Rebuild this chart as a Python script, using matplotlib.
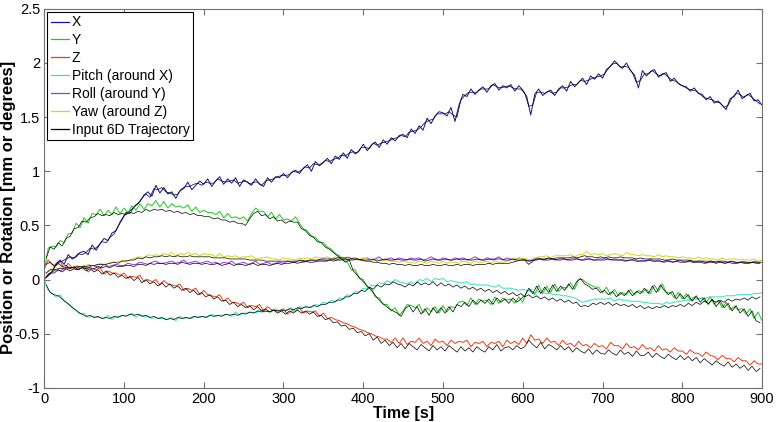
import matplotlib

matplotlib.use("Agg")
import matplotlib.pyplot as plt
import numpy as np

plt.rcParams["font.family"] = ["Liberation Sans", "DejaVu Sans"]

# measured pose, sampled every 5 s (0..900)
t_meas = np.arange(0, 901, 5)
# input trajectory, sampled every 5 s between the measured samples
t_input = np.arange(2.5, 900, 5)

x_pos = [
    0.00, 0.05, 0.07, 0.15, 0.18, 0.14, 0.23, 0.19, 0.21, 0.25,
    0.26, 0.23, 0.32, 0.27, 0.33, 0.38, 0.36, 0.43, 0.45, 0.53,
    0.59, 0.62, 0.65, 0.69, 0.72, 0.78, 0.81, 0.77, 0.87, 0.80,
    0.85, 0.79, 0.81, 0.75, 0.82, 0.84, 0.90, 0.83, 0.87, 0.91,
    0.88, 0.93, 0.86, 0.91, 0.95, 0.88, 0.93, 0.89, 0.94, 0.86,
    0.92, 0.90, 0.87, 0.93, 0.88, 0.86, 0.94, 0.90, 0.95, 0.94,
    0.98, 0.94, 0.99, 1.01, 0.98, 1.03, 1.06, 1.00, 1.09, 1.05,
    1.08, 1.12, 1.07, 1.14, 1.11, 1.17, 1.12, 1.20, 1.16, 1.19,
    1.25, 1.19, 1.24, 1.27, 1.22, 1.29, 1.25, 1.31, 1.28, 1.33,
    1.34, 1.31, 1.39, 1.35, 1.42, 1.38, 1.49, 1.44, 1.51, 1.55,
    1.54, 1.51, 1.59, 1.46, 1.61, 1.71, 1.69, 1.76, 1.71, 1.75,
    1.78, 1.73, 1.79, 1.81, 1.75, 1.79, 1.77, 1.80, 1.74, 1.79,
    1.75, 1.69, 1.52, 1.71, 1.76, 1.70, 1.73, 1.75, 1.70, 1.76,
    1.79, 1.74, 1.83, 1.78, 1.82, 1.86, 1.80, 1.88, 1.85, 1.90,
    1.86, 1.94, 1.97, 2.02, 1.98, 1.95, 2.00, 1.93, 1.89, 1.77,
    1.93, 1.88, 1.92, 1.94, 1.87, 1.90, 1.91, 1.83, 1.86, 1.81,
    1.79, 1.78, 1.74, 1.77, 1.72, 1.71, 1.66, 1.69, 1.63, 1.65,
    1.61, 1.57, 1.67, 1.69, 1.75, 1.67, 1.70, 1.72, 1.65, 1.66,
    1.61,
]
y_pos = [
    0.08, 0.29, 0.31, 0.30, 0.36, 0.34, 0.42, 0.43, 0.52, 0.48,
    0.57, 0.52, 0.61, 0.60, 0.65, 0.59, 0.64, 0.60, 0.67, 0.61,
    0.66, 0.62, 0.68, 0.64, 0.70, 0.65, 0.70, 0.68, 0.73, 0.67,
    0.72, 0.66, 0.70, 0.67, 0.68, 0.66, 0.69, 0.63, 0.67, 0.62,
    0.64, 0.62, 0.62, 0.60, 0.63, 0.57, 0.61, 0.57, 0.58, 0.56,
    0.58, 0.54, 0.61, 0.66, 0.63, 0.63, 0.58, 0.62, 0.56, 0.60,
    0.55, 0.56, 0.54, 0.58, 0.52, 0.47, 0.45, 0.40, 0.39, 0.35,
    0.34, 0.30, 0.28, 0.24, 0.22, 0.18, 0.16, 0.09, 0.09, 0.01,
    0.00, -0.07, -0.08, -0.16, -0.17, -0.23, -0.23, -0.29, -0.26, -0.33,
    -0.29, -0.23, -0.24, -0.26, -0.23, -0.31, -0.26, -0.30, -0.25, -0.31,
    -0.24, -0.30, -0.25, -0.26, -0.21, -0.20, -0.24, -0.17, -0.23, -0.18,
    -0.20, -0.19, -0.23, -0.16, -0.22, -0.17, -0.19, -0.18, -0.22, -0.16,
    -0.21, -0.11, -0.09, -0.14, -0.05, -0.13, -0.06, -0.12, -0.04, -0.11,
    -0.07, -0.08, -0.03, -0.09, 0.00, 0.00, -0.03, -0.05, -0.07, -0.07,
    -0.12, -0.07, -0.14, -0.09, -0.15, -0.12, -0.14, -0.09, -0.14, -0.10,
    -0.12, -0.09, -0.13, -0.05, -0.11, -0.04, -0.12, -0.12, -0.17, -0.12,
    -0.18, -0.13, -0.19, -0.16, -0.18, -0.17, -0.21, -0.16, -0.23, -0.19,
    -0.26, -0.21, -0.28, -0.25, -0.28, -0.27, -0.32, -0.27, -0.36, -0.30,
    -0.38,
]
z_pos = [
    0.10, 0.18, 0.14, 0.13, 0.17, 0.10, 0.15, 0.11, 0.12, 0.10,
    0.13, 0.07, 0.10, 0.09, 0.11, 0.05, 0.08, 0.06, 0.06, 0.04,
    0.06, 0.01, 0.03, 0.02, 0.04, -0.02, 0.00, -0.02, 0.00, -0.05,
    -0.01, -0.04, -0.05, -0.06, -0.04, -0.10, -0.08, -0.10, -0.08, -0.14,
    -0.10, -0.14, -0.15, -0.16, -0.14, -0.20, -0.17, -0.21, -0.21, -0.23,
    -0.21, -0.26, -0.24, -0.25, -0.23, -0.29, -0.25, -0.28, -0.29, -0.29,
    -0.27, -0.32, -0.29, -0.29, -0.26, -0.31, -0.29, -0.30, -0.29, -0.34,
    -0.31, -0.36, -0.35, -0.37, -0.38, -0.40, -0.41, -0.43, -0.44, -0.46,
    -0.47, -0.49, -0.50, -0.52, -0.53, -0.55, -0.55, -0.58, -0.54, -0.59,
    -0.54, -0.60, -0.57, -0.58, -0.54, -0.59, -0.57, -0.61, -0.55, -0.58,
    -0.57, -0.61, -0.56, -0.59, -0.57, -0.58, -0.56, -0.62, -0.58, -0.59,
    -0.57, -0.62, -0.58, -0.59, -0.57, -0.62, -0.56, -0.59, -0.57, -0.60,
    -0.54, -0.59, -0.51, -0.56, -0.55, -0.59, -0.54, -0.58, -0.57, -0.61,
    -0.56, -0.60, -0.59, -0.62, -0.57, -0.61, -0.60, -0.63, -0.59, -0.62,
    -0.61, -0.64, -0.58, -0.61, -0.61, -0.64, -0.59, -0.63, -0.62, -0.65,
    -0.60, -0.64, -0.63, -0.66, -0.61, -0.65, -0.64, -0.67, -0.63, -0.66,
    -0.66, -0.69, -0.65, -0.68, -0.68, -0.71, -0.67, -0.70, -0.71, -0.74,
    -0.70, -0.73, -0.73, -0.76, -0.72, -0.75, -0.75, -0.79, -0.75, -0.78,
    -0.78,
]
pitch = [
    0.00, -0.10, -0.13, -0.16, -0.14, -0.20, -0.22, -0.26, -0.28, -0.32,
    -0.31, -0.35, -0.34, -0.35, -0.35, -0.36, -0.33, -0.37, -0.34, -0.34,
    -0.33, -0.33, -0.31, -0.35, -0.32, -0.34, -0.34, -0.36, -0.35, -0.36,
    -0.36, -0.37, -0.35, -0.38, -0.34, -0.36, -0.35, -0.36, -0.34, -0.35,
    -0.34, -0.35, -0.32, -0.34, -0.33, -0.33, -0.32, -0.34, -0.30, -0.33,
    -0.31, -0.31, -0.30, -0.31, -0.28, -0.30, -0.29, -0.30, -0.27, -0.30,
    -0.28, -0.28, -0.26, -0.29, -0.25, -0.26, -0.25, -0.26, -0.23, -0.24,
    -0.21, -0.22, -0.19, -0.21, -0.17, -0.18, -0.14, -0.15, -0.11, -0.12,
    -0.08, -0.09, -0.05, -0.06, -0.03, -0.04, -0.01, -0.03, 0.00, -0.02,
    -0.03, -0.04, -0.02, -0.05, 0.00, -0.01, 0.01, -0.02, 0.01, 0.00,
    0.01, -0.02, -0.01, -0.02, -0.03, -0.03, -0.02, -0.05, -0.04, -0.05,
    -0.05, -0.05, -0.06, -0.07, -0.05, -0.08, -0.08, -0.08, -0.09, -0.10,
    -0.09, -0.10, -0.11, -0.12, -0.11, -0.12, -0.13, -0.13, -0.14, -0.14,
    -0.15, -0.15, -0.16, -0.17, -0.19, -0.21, -0.20, -0.19, -0.18, -0.18,
    -0.18, -0.18, -0.17, -0.20, -0.18, -0.19, -0.19, -0.20, -0.20, -0.20,
    -0.21, -0.21, -0.22, -0.22, -0.22, -0.23, -0.21, -0.22, -0.21, -0.20,
    -0.20, -0.19, -0.19, -0.18, -0.18, -0.17, -0.17, -0.16, -0.16, -0.16,
    -0.16, -0.15, -0.15, -0.15, -0.14, -0.14, -0.14, -0.14, -0.13, -0.13,
    -0.12,
]
roll = [
    0.00, 0.04, 0.07, 0.09, 0.08, 0.10, 0.10, 0.11, 0.09, 0.12,
    0.11, 0.11, 0.13, 0.12, 0.11, 0.14, 0.12, 0.13, 0.14, 0.13,
    0.13, 0.15, 0.14, 0.14, 0.16, 0.15, 0.14, 0.16, 0.17, 0.15,
    0.15, 0.16, 0.17, 0.15, 0.16, 0.18, 0.15, 0.16, 0.17, 0.15,
    0.16, 0.17, 0.15, 0.16, 0.14, 0.16, 0.15, 0.17, 0.14, 0.15,
    0.16, 0.14, 0.15, 0.17, 0.14, 0.15, 0.16, 0.14, 0.15, 0.16,
    0.15, 0.17, 0.16, 0.16, 0.18, 0.16, 0.17, 0.18, 0.17, 0.18,
    0.18, 0.17, 0.19, 0.18, 0.19, 0.20, 0.18, 0.19, 0.20, 0.18,
    0.19, 0.20, 0.18, 0.19, 0.21, 0.18, 0.19, 0.20, 0.18, 0.20,
    0.19, 0.18, 0.20, 0.19, 0.20, 0.18, 0.19, 0.21, 0.19, 0.18,
    0.20, 0.19, 0.18, 0.20, 0.19, 0.20, 0.18, 0.19, 0.21, 0.19,
    0.18, 0.20, 0.19, 0.19, 0.21, 0.18, 0.20, 0.19, 0.18, 0.20,
    0.19, 0.18, 0.17, 0.19, 0.20, 0.18, 0.19, 0.20, 0.18, 0.19,
    0.20, 0.18, 0.19, 0.20, 0.19, 0.18, 0.20, 0.19, 0.18, 0.19,
    0.19, 0.20, 0.18, 0.19, 0.18, 0.19, 0.17, 0.18, 0.19, 0.17,
    0.18, 0.17, 0.19, 0.17, 0.18, 0.16, 0.18, 0.17, 0.16, 0.18,
    0.17, 0.16, 0.18, 0.16, 0.17, 0.17, 0.15, 0.17, 0.16, 0.17,
    0.16, 0.15, 0.17, 0.16, 0.15, 0.17, 0.16, 0.15, 0.17, 0.16,
    0.16,
]
yaw = [
    0.05, 0.08, 0.10, 0.09, 0.11, 0.11, 0.12, 0.10, 0.13, 0.12,
    0.12, 0.14, 0.13, 0.13, 0.15, 0.14, 0.15, 0.16, 0.16, 0.17,
    0.18, 0.17, 0.19, 0.20, 0.21, 0.20, 0.23, 0.22, 0.23, 0.22,
    0.24, 0.23, 0.25, 0.22, 0.24, 0.23, 0.25, 0.23, 0.24, 0.22,
    0.24, 0.23, 0.23, 0.21, 0.24, 0.21, 0.22, 0.21, 0.22, 0.20,
    0.21, 0.21, 0.22, 0.19, 0.20, 0.20, 0.21, 0.19, 0.19, 0.18,
    0.20, 0.19, 0.19, 0.18, 0.20, 0.19, 0.20, 0.19, 0.21, 0.20,
    0.20, 0.21, 0.19, 0.21, 0.20, 0.19, 0.21, 0.20, 0.20, 0.19,
    0.20, 0.19, 0.18, 0.18, 0.19, 0.17, 0.18, 0.17, 0.17, 0.16,
    0.17, 0.16, 0.16, 0.15, 0.17, 0.16, 0.15, 0.17, 0.16, 0.15,
    0.17, 0.15, 0.16, 0.16, 0.15, 0.17, 0.16, 0.15, 0.17, 0.16,
    0.16, 0.17, 0.15, 0.17, 0.16, 0.16, 0.17, 0.18, 0.20, 0.19,
    0.20, 0.19, 0.18, 0.20, 0.21, 0.21, 0.22, 0.20, 0.22, 0.22,
    0.22, 0.22, 0.23, 0.21, 0.23, 0.23, 0.26, 0.23, 0.24, 0.23,
    0.24, 0.22, 0.23, 0.24, 0.23, 0.22, 0.25, 0.23, 0.23, 0.22,
    0.23, 0.22, 0.22, 0.21, 0.23, 0.21, 0.22, 0.21, 0.21, 0.20,
    0.21, 0.20, 0.20, 0.19, 0.21, 0.19, 0.20, 0.19, 0.19, 0.18,
    0.20, 0.18, 0.19, 0.19, 0.18, 0.19, 0.18, 0.18, 0.19, 0.17,
    0.18,
]

input_x = [
    0.02, 0.05, 0.11, 0.16, 0.17, 0.19, 0.21, 0.20, 0.24, 0.23,
    0.25, 0.29, 0.28, 0.31, 0.35, 0.34, 0.39, 0.42, 0.49, 0.55,
    0.62, 0.61, 0.67, 0.70, 0.75, 0.79, 0.76, 0.84, 0.83, 0.85,
    0.81, 0.80, 0.78, 0.79, 0.84, 0.86, 0.86, 0.88, 0.89, 0.87,
    0.90, 0.89, 0.89, 0.93, 0.91, 0.90, 0.91, 0.92, 0.89, 0.90,
    0.91, 0.88, 0.90, 0.90, 0.87, 0.91, 0.92, 0.93, 0.95, 0.96,
    0.96, 0.97, 1.00, 0.99, 1.01, 1.04, 1.03, 1.07, 1.06, 1.07,
    1.10, 1.09, 1.11, 1.12, 1.15, 1.14, 1.17, 1.18, 1.17, 1.22,
    1.22, 1.21, 1.26, 1.24, 1.26, 1.27, 1.28, 1.30, 1.31, 1.33,
    1.32, 1.36, 1.37, 1.38, 1.41, 1.45, 1.47, 1.48, 1.53, 1.53,
    1.53, 1.55, 1.52, 1.50, 1.66, 1.70, 1.73, 1.73, 1.73, 1.76,
    1.76, 1.76, 1.80, 1.78, 1.77, 1.78, 1.79, 1.77, 1.76, 1.76,
    1.72, 1.60, 1.61, 1.73, 1.73, 1.72, 1.74, 1.72, 1.73, 1.77,
    1.77, 1.78, 1.80, 1.80, 1.84, 1.83, 1.84, 1.86, 1.87, 1.88,
    1.90, 1.95, 1.99, 2.00, 1.96, 1.97, 1.96, 1.91, 1.82, 1.84,
    1.90, 1.90, 1.93, 1.90, 1.88, 1.90, 1.87, 1.84, 1.83, 1.80,
    1.78, 1.76, 1.75, 1.74, 1.71, 1.68, 1.67, 1.66, 1.64, 1.63,
    1.59, 1.61, 1.68, 1.72, 1.71, 1.68, 1.71, 1.68, 1.65, 1.62,
]
input_y = [
    0.20, 0.30, 0.28, 0.34, 0.31, 0.38, 0.40, 0.47, 0.48, 0.54,
    0.53, 0.57, 0.58, 0.61, 0.59, 0.60, 0.59, 0.62, 0.60, 0.61,
    0.60, 0.62, 0.61, 0.63, 0.62, 0.65, 0.63, 0.65, 0.64, 0.65,
    0.63, 0.64, 0.62, 0.63, 0.61, 0.62, 0.60, 0.61, 0.59, 0.59,
    0.58, 0.58, 0.56, 0.57, 0.55, 0.55, 0.53, 0.54, 0.52, 0.52,
    0.50, 0.56, 0.61, 0.63, 0.59, 0.60, 0.56, 0.58, 0.54, 0.55,
    0.52, 0.54, 0.53, 0.53, 0.47, 0.45, 0.41, 0.39, 0.35, 0.34,
    0.30, 0.28, 0.25, 0.22, 0.19, 0.16, 0.18, 0.08, 0.04, 0.00,
    -0.04, -0.08, -0.12, -0.17, -0.21, -0.24, -0.27, -0.29, -0.31, -0.34,
    -0.27, -0.24, -0.30, -0.25, -0.32, -0.27, -0.33, -0.26, -0.31, -0.26,
    -0.31, -0.25, -0.30, -0.23, -0.25, -0.21, -0.25, -0.19, -0.23, -0.19,
    -0.22, -0.18, -0.23, -0.17, -0.21, -0.18, -0.22, -0.17, -0.21, -0.18,
    -0.15, -0.08, -0.13, -0.06, -0.13, -0.07, -0.12, -0.05, -0.11, -0.06,
    -0.10, -0.04, -0.09, -0.02, 0.01, -0.04, -0.06, -0.09, -0.08, -0.12,
    -0.10, -0.14, -0.11, -0.16, -0.12, -0.15, -0.10, -0.15, -0.11, -0.13,
    -0.08, -0.13, -0.06, -0.12, -0.05, -0.10, -0.14, -0.11, -0.18, -0.13,
    -0.18, -0.14, -0.20, -0.15, -0.21, -0.17, -0.23, -0.18, -0.25, -0.20,
    -0.26, -0.22, -0.29, -0.24, -0.31, -0.27, -0.34, -0.29, -0.38, -0.40,
]
input_z = [
    0.14, 0.16, 0.12, 0.15, 0.12, 0.13, 0.10, 0.12, 0.09, 0.11,
    0.08, 0.10, 0.07, 0.09, 0.05, 0.08, 0.04, 0.06, 0.02, 0.04,
    0.01, 0.03, -0.01, 0.02, -0.03, 0.00, -0.04, -0.02, -0.06, -0.03,
    -0.07, -0.04, -0.08, -0.06, -0.10, -0.08, -0.12, -0.10, -0.14, -0.12,
    -0.16, -0.14, -0.18, -0.16, -0.20, -0.19, -0.23, -0.21, -0.25, -0.23,
    -0.26, -0.24, -0.28, -0.25, -0.29, -0.27, -0.30, -0.28, -0.31, -0.29,
    -0.32, -0.29, -0.31, -0.28, -0.31, -0.29, -0.32, -0.30, -0.34, -0.33,
    -0.37, -0.36, -0.40, -0.39, -0.43, -0.42, -0.46, -0.45, -0.49, -0.48,
    -0.52, -0.50, -0.56, -0.53, -0.59, -0.56, -0.61, -0.58, -0.63, -0.59,
    -0.64, -0.59, -0.62, -0.65, -0.60, -0.63, -0.66, -0.61, -0.65, -0.62,
    -0.66, -0.61, -0.64, -0.67, -0.62, -0.66, -0.63, -0.67, -0.62, -0.65,
    -0.67, -0.62, -0.65, -0.60, -0.66, -0.63, -0.62, -0.65, -0.61, -0.64,
    -0.62, -0.56, -0.60, -0.63, -0.58, -0.64, -0.60, -0.62, -0.65, -0.61,
    -0.65, -0.62, -0.67, -0.63, -0.66, -0.68, -0.64, -0.69, -0.65, -0.68,
    -0.69, -0.65, -0.68, -0.70, -0.65, -0.69, -0.67, -0.71, -0.66, -0.70,
    -0.70, -0.67, -0.72, -0.68, -0.71, -0.73, -0.69, -0.72, -0.74, -0.70,
    -0.74, -0.71, -0.75, -0.72, -0.77, -0.73, -0.76, -0.79, -0.75, -0.78,
    -0.80, -0.76, -0.81, -0.78, -0.82, -0.79, -0.84, -0.80, -0.85, -0.82,
]
input_pitch = [
    -0.05, -0.12, -0.14, -0.15, -0.18, -0.21, -0.24, -0.27, -0.30, -0.32,
    -0.34, -0.33, -0.35, -0.34, -0.36, -0.35, -0.36, -0.34, -0.35, -0.33,
    -0.34, -0.32, -0.33, -0.32, -0.34, -0.33, -0.35, -0.34, -0.36, -0.35,
    -0.37, -0.36, -0.37, -0.35, -0.36, -0.35, -0.36, -0.34, -0.35, -0.34,
    -0.35, -0.33, -0.34, -0.33, -0.34, -0.32, -0.33, -0.32, -0.33, -0.31,
    -0.32, -0.30, -0.31, -0.29, -0.30, -0.29, -0.30, -0.28, -0.29, -0.28,
    -0.29, -0.27, -0.28, -0.26, -0.27, -0.25, -0.26, -0.24, -0.25, -0.23,
    -0.23, -0.21, -0.21, -0.19, -0.19, -0.16, -0.16, -0.13, -0.13, -0.10,
    -0.11, -0.07, -0.09, -0.05, -0.07, -0.04, -0.05, -0.02, -0.04, -0.05,
    -0.07, -0.04, -0.06, -0.02, -0.05, -0.03, -0.05, -0.02, -0.06, -0.03,
    -0.06, -0.04, -0.07, -0.05, -0.08, -0.06, -0.09, -0.07, -0.10, -0.08,
    -0.11, -0.09, -0.12, -0.10, -0.13, -0.11, -0.14, -0.12, -0.15, -0.13,
    -0.16, -0.14, -0.17, -0.15, -0.18, -0.16, -0.19, -0.17, -0.20, -0.18,
    -0.21, -0.19, -0.22, -0.21, -0.25, -0.24, -0.25, -0.22, -0.23, -0.21,
    -0.23, -0.21, -0.24, -0.22, -0.24, -0.23, -0.25, -0.23, -0.26, -0.24,
    -0.27, -0.25, -0.27, -0.25, -0.26, -0.24, -0.26, -0.24, -0.25, -0.23,
    -0.25, -0.22, -0.24, -0.21, -0.23, -0.20, -0.22, -0.19, -0.21, -0.19,
    -0.21, -0.18, -0.20, -0.18, -0.19, -0.17, -0.19, -0.16, -0.18, -0.16,
]
input_roll = [
    0.02, 0.06, 0.06, 0.09, 0.07, 0.10, 0.08, 0.10, 0.09, 0.11,
    0.10, 0.11, 0.10, 0.12, 0.11, 0.12, 0.11, 0.13, 0.12, 0.12,
    0.13, 0.13, 0.12, 0.14, 0.14, 0.13, 0.15, 0.14, 0.15, 0.15,
    0.14, 0.15, 0.15, 0.14, 0.16, 0.15, 0.14, 0.15, 0.15, 0.14,
    0.15, 0.14, 0.14, 0.15, 0.13, 0.14, 0.15, 0.13, 0.14, 0.14,
    0.13, 0.14, 0.15, 0.13, 0.14, 0.14, 0.13, 0.14, 0.15, 0.14,
    0.15, 0.15, 0.16, 0.15, 0.16, 0.17, 0.16, 0.16, 0.17, 0.17,
    0.17, 0.18, 0.17, 0.18, 0.18, 0.19, 0.18, 0.18, 0.19, 0.18,
    0.18, 0.18, 0.19, 0.17, 0.18, 0.19, 0.18, 0.18, 0.19, 0.18,
    0.18, 0.19, 0.18, 0.18, 0.19, 0.17, 0.18, 0.19, 0.18, 0.18,
    0.19, 0.18, 0.18, 0.19, 0.18, 0.19, 0.18, 0.18, 0.19, 0.18,
    0.18, 0.19, 0.18, 0.19, 0.19, 0.18, 0.18, 0.19, 0.18, 0.18,
    0.18, 0.17, 0.18, 0.18, 0.19, 0.18, 0.18, 0.19, 0.18, 0.18,
    0.19, 0.18, 0.18, 0.19, 0.18, 0.18, 0.19, 0.18, 0.18, 0.18,
    0.18, 0.19, 0.18, 0.18, 0.18, 0.17, 0.18, 0.18, 0.17, 0.17,
    0.17, 0.18, 0.17, 0.17, 0.17, 0.16, 0.17, 0.16, 0.17, 0.16,
    0.16, 0.17, 0.16, 0.16, 0.16, 0.15, 0.16, 0.16, 0.15, 0.16,
    0.15, 0.16, 0.15, 0.15, 0.16, 0.15, 0.15, 0.16, 0.15, 0.15,
]
input_yaw = [
    0.06, 0.09, 0.09, 0.10, 0.10, 0.11, 0.11, 0.11, 0.12, 0.12,
    0.12, 0.13, 0.13, 0.14, 0.14, 0.14, 0.15, 0.16, 0.15, 0.17,
    0.17, 0.18, 0.18, 0.20, 0.19, 0.21, 0.20, 0.21, 0.21, 0.22,
    0.21, 0.22, 0.21, 0.22, 0.21, 0.21, 0.22, 0.21, 0.21, 0.21,
    0.21, 0.21, 0.20, 0.20, 0.20, 0.20, 0.19, 0.19, 0.19, 0.19,
    0.19, 0.18, 0.18, 0.18, 0.18, 0.17, 0.17, 0.17, 0.17, 0.17,
    0.17, 0.17, 0.17, 0.17, 0.18, 0.17, 0.18, 0.18, 0.18, 0.19,
    0.19, 0.19, 0.19, 0.20, 0.20, 0.20, 0.20, 0.19, 0.19, 0.18,
    0.17, 0.17, 0.16, 0.16, 0.15, 0.15, 0.14, 0.15, 0.14, 0.14,
    0.13, 0.14, 0.13, 0.13, 0.14, 0.13, 0.13, 0.14, 0.13, 0.13,
    0.14, 0.13, 0.13, 0.14, 0.13, 0.14, 0.14, 0.13, 0.14, 0.14,
    0.14, 0.15, 0.14, 0.15, 0.15, 0.15, 0.15, 0.16, 0.17, 0.18,
    0.18, 0.14, 0.17, 0.19, 0.19, 0.19, 0.20, 0.19, 0.20, 0.20,
    0.20, 0.20, 0.21, 0.20, 0.21, 0.22, 0.21, 0.21, 0.20, 0.21,
    0.20, 0.21, 0.20, 0.20, 0.21, 0.20, 0.20, 0.20, 0.19, 0.20,
    0.19, 0.19, 0.19, 0.19, 0.19, 0.18, 0.18, 0.19, 0.18, 0.18,
    0.18, 0.18, 0.17, 0.17, 0.17, 0.17, 0.17, 0.17, 0.16, 0.17,
    0.17, 0.16, 0.17, 0.16, 0.16, 0.16, 0.16, 0.16, 0.16, 0.16,
]

series = [
    ("X", x_pos, "#101098"),
    ("Y", y_pos, "#1ec81e"),
    ("Z", z_pos, "#ec3c14"),
    ("Pitch (around X)", pitch, "#30e4b4"),
    ("Roll (around Y)", roll, "#9a34e4"),
    ("Yaw (around Z)", yaw, "#d4d41c"),
]
inputs = [input_x, input_y, input_z, input_pitch, input_roll, input_yaw]

fig = plt.figure(figsize=(7.76, 4.22), dpi=100)
ax = fig.add_axes([0.057, 0.081, 0.925, 0.898])

for label, vals, color in series:
    ax.plot(t_meas, vals, color=color, lw=0.7, label=label)
for i, vals in enumerate(inputs):
    ax.plot(t_input, vals, color="black", lw=0.5,
            label="Input 6D Trajectory" if i == 0 else None)

ax.set_xlim(0, 900)
ax.set_ylim(-1, 2.5)
ax.set_xticks(np.arange(0, 901, 100))
ax.set_yticks(np.arange(-1, 2.51, 0.5))
ax.set_yticklabels(["-1", "-0.5", "0", "0.5", "1", "1.5", "2", "2.5"])
ax.tick_params(direction="in", top=True, right=True, length=4,
               labelsize=10.5, color="#707070", pad=3)
for sp in ax.spines.values():
    sp.set_color("#707070")
    sp.set_linewidth(0.8)

ax.set_xlabel("Time [s]", fontsize=11.5, fontweight="bold", labelpad=0)
ax.set_ylabel("Position or Rotation [mm or degrees]", fontsize=12,
              fontweight="bold")
ax.yaxis.set_label_coords(-0.039, 0.475)

leg = ax.legend(loc="upper left", fontsize=10, frameon=True, fancybox=False,
                framealpha=1, handlelength=1.3, handletextpad=0.2,
                borderpad=0.25, labelspacing=0.28, borderaxespad=0.22)
leg.get_frame().set_edgecolor("black")
leg.get_frame().set_linewidth(0.8)
for line in leg.get_lines():
    line.set_linewidth(0.9)

fig.savefig("out.png", dpi=100)
